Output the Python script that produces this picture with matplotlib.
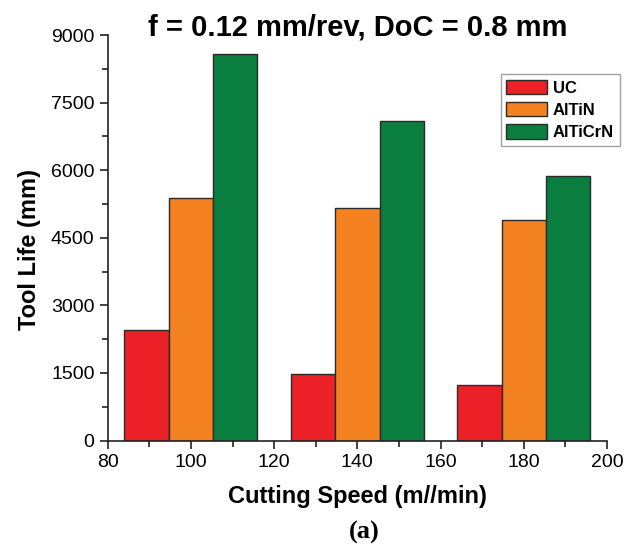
import matplotlib
matplotlib.use("Agg")
import matplotlib.pyplot as plt
from matplotlib.ticker import MultipleLocator

speeds = [100, 140, 180]
series_names = ["UC", "AlTiN", "AlTiCrN"]
uc = [2450, 1475, 1230]
altin = [5390, 5150, 4900]
alticrn = [8580, 7100, 5875]
colors = ["#EC2027", "#F58220", "#0A7E3F"]

plt.rcParams['font.family'] = ['Liberation Sans', 'DejaVu Sans']

W, H = 633, 549
fig = plt.figure(figsize=(W / 100, H / 100), dpi=100)
left, right, top, bottom = 107.7, 607.0, 35.0, 440.5
ax = fig.add_axes([left / W, 1 - bottom / H, (right - left) / W, (bottom - top) / H])

w = 32 / 3
for i, (vals, name, c) in enumerate(zip([uc, altin, alticrn], series_names, colors)):
    xs = [s + (i - 1) * w for s in speeds]
    ax.bar(xs, vals, width=w, color=c, edgecolor="#2a2a2a", linewidth=1.0, label=name)

ax.set_xlim(80, 200)
ax.set_ylim(0, 9000)
ax.xaxis.set_major_locator(MultipleLocator(20))
ax.xaxis.set_minor_locator(MultipleLocator(10))
ax.yaxis.set_major_locator(MultipleLocator(1500))
ax.yaxis.set_minor_locator(MultipleLocator(750))
for s in ["top", "right"]:
    ax.spines[s].set_visible(False)
for s in ["left", "bottom"]:
    ax.spines[s].set_linewidth(1.2)
    ax.spines[s].set_color("#222222")
ax.tick_params(which="major", direction="out", length=6, width=1.2, labelsize=14,
               color="#222222")
ax.tick_params(which="minor", direction="out", length=4, width=1.2, color="#222222")

leg = ax.legend(loc="upper right", bbox_to_anchor=(620 / W, 1 - 74 / H),
                bbox_transform=fig.transFigure, borderaxespad=0,
                prop={"weight": "bold", "size": 12}, frameon=True, fancybox=False,
                edgecolor="#8a8a8a", handlelength=2.45, handleheight=0.95,
                handletextpad=0.35, borderpad=0.35, labelspacing=0.38)
leg.get_frame().set_linewidth(1.0)

cx = (left + right) / 2 / W
fig.text(cx, 1 - 36 / H, "f = 0.12 mm/rev, DoC = 0.8 mm", ha="center", va="baseline",
         fontsize=21, fontweight="bold")
fig.text(cx, 1 - 503.5 / H, "Cutting Speed (m//min)", ha="center", va="baseline",
         fontsize=17, fontweight="bold")
fig.text(29.6 / W, 1 - 250 / H, "Tool Life (mm)", ha="center", va="center",
         rotation=90, fontsize=17, fontweight="bold")
fig.text(364 / W, 1 - 532 / H, "(a)", ha="center", va="center", fontsize=19,
         fontweight="bold", family=["Liberation Serif", "DejaVu Serif"])

fig.savefig("out.png", dpi=100)
